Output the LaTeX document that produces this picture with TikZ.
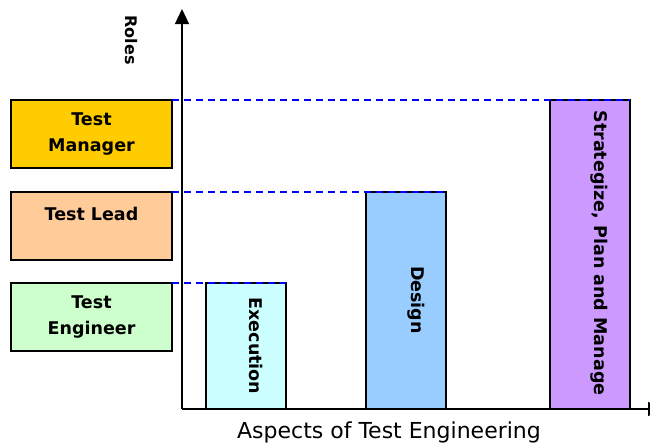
\documentclass[tikz,border=0pt]{standalone}
\usepackage{fontspec}
\setmainfont{DejaVu Sans}
\usetikzlibrary{arrows.meta}
\definecolor{mgrcol}{HTML}{FFCC00}
\definecolor{leadcol}{HTML}{FFCC99}
\definecolor{engcol}{HTML}{CCFFCC}
\definecolor{execcol}{HTML}{CCFFFF}
\definecolor{designcol}{HTML}{99CCFF}
\definecolor{stratcol}{HTML}{CC99FF}
\tikzset{
  rolebox/.style={draw=black, line width=1.2pt, minimum width=161pt, minimum height=68pt,
    inner sep=0pt, outer sep=0pt, align=center, font=\bfseries\fontsize{17.5}{26}\selectfont, anchor=north west},
  barbox/.style={draw=black, line width=1.2pt, anchor=south west, minimum width=80pt, inner sep=0pt, outer sep=0pt},
  barlabel/.style={rotate=-90, font=\bfseries\fontsize{17.5}{20}\selectfont},
  guide/.style={blue, line width=1.5pt, dash pattern=on 7pt off 5pt},
  axis/.style={line width=1.2pt, -{Triangle[width=14pt,length=15pt]}}
}
\begin{document}
\begin{tikzpicture}[x=1pt, y=-1pt]
\useasboundingbox (0,0) rectangle (650,445);
% role boxes on the left
\node[rolebox, fill=mgrcol] (mgr) at (11,100) {Test\\Manager};
\node[rolebox, fill=leadcol] (lead) at (11,192) {Test Lead\\[-2pt]\phantom{x}};
\node[rolebox, fill=engcol] (eng) at (11,283) {Test\\Engineer};
% activity bars
\node[barbox, fill=execcol, minimum height=126pt] (exec) at (206,409) {};
\node[barbox, fill=designcol, minimum height=217pt] (design) at (366,409) {};
\node[barbox, fill=stratcol, minimum height=309pt] (strat) at (550,409) {};
\node[barlabel] (execl) at (256,346) {Execution};
\node[barlabel] (designl) at (416,300) {Design};
\node[barlabel] (stratl) at (599,253) {Strategize, Plan and Manage};
% dashed guides from roles to bars
\draw[guide] (mgr.north east) -- (strat.north east);
\draw[guide] (lead.north east) -- (design.north east);
\draw[guide] (eng.north east) -- (exec.north east);
% axes
\coordinate (origin) at (182,409);
\coordinate (ytip) at (182,9);
\coordinate (xtip) at (663,409);
\draw[axis] (origin) -- (ytip);
\draw[axis] (origin) -- (xtip);
\node[rotate=-90, font=\bfseries\fontsize{16}{19}\selectfont] (roles) at (131,40) {Roles};
\node[font=\fontsize{22}{26}\selectfont] (xlabel) at (389,432) {Aspects of Test Engineering};
\end{tikzpicture}
\end{document}
